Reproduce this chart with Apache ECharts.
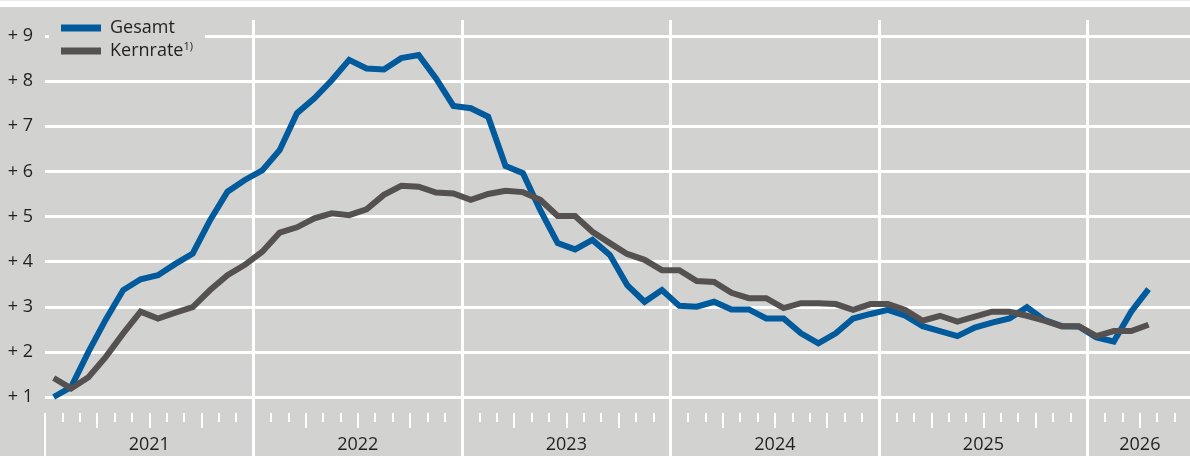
<!DOCTYPE html>
<html>
<head>
<meta charset="utf-8">
<script src="https://cdn.jsdelivr.net/npm/echarts@6/dist/echarts.min.js"></script>
<style>
  html, body { margin: 0; padding: 0; background: #fff; }
  #chart { width: 1190px; height: 456px; }
</style>
</head>
<body>
<div id="chart"></div>
<script>
// Jahre und Monate der x-Achse
var years = ['2021', '2022', '2023', '2024', '2025', '2026'];
var monthNames = ['01', '02', '03', '04', '05', '06', '07', '08', '09', '10', '11', '12'];
var yearLabelPos = [6, 18, 30, 42, 54, 63];   // Monat, an dem das Jahr steht
var yTicks = [1, 2, 3, 4, 5, 6, 7, 8, 9];

// Veränderung gegenüber Vorjahr in %
var gesamt = [
    1.00, 1.22, 2.00, 2.72, 3.37, 3.61, 3.70, 3.95, 4.18, 4.92, 5.55, 5.81,
    6.02, 6.47, 7.29, 7.62, 8.02, 8.47, 8.28, 8.26, 8.51, 8.58, 8.06, 7.45,
    7.40, 7.21, 6.12, 5.96, 5.14, 4.41, 4.27, 4.48, 4.15, 3.48, 3.11, 3.37,
    3.02, 3.00, 3.11, 2.94, 2.94, 2.74, 2.74, 2.41, 2.19, 2.41, 2.74, 2.84,
    2.93, 2.80, 2.57, 2.46, 2.35, 2.54, 2.65, 2.74, 2.99, 2.71, 2.57, 2.56,
    2.32, 2.23, 2.89, 3.39
];
var kernrate = [
    1.42, 1.19, 1.44, 1.89, 2.41, 2.89, 2.74, 2.87, 2.99, 3.37, 3.70, 3.93,
    4.22, 4.64, 4.76, 4.96, 5.07, 5.03, 5.16, 5.48, 5.68, 5.66, 5.53, 5.51,
    5.37, 5.50, 5.57, 5.54, 5.37, 5.01, 5.01, 4.66, 4.41, 4.17, 4.04, 3.81,
    3.81, 3.57, 3.55, 3.31, 3.19, 3.19, 2.97, 3.08, 3.08, 3.06, 2.93, 3.06,
    3.06, 2.93, 2.69, 2.80, 2.67, 2.78, 2.89, 2.89, 2.80, 2.69, 2.57, 2.57,
    2.35, 2.46, 2.46, 2.60
];

var months = [];
for (var y = 0; y < years.length; y++) {
    for (var m = 0; m < 12; m++) {
        months.push(years[y] + '-' + monthNames[m]);
    }
}
months = months.slice(0, 66);   // Achse endet im Juni 2026

var bg = '#d2d2d1';
var textCol = '#231f20';
var font = '"Open Sans", sans-serif';
var nMonths = months.length;

var option = {
    animation: false,
    backgroundColor: bg,
    textStyle: { fontFamily: font },
    graphic: [
        { type: 'rect', left: 0, top: 0, shape: { width: 1190, height: 7 }, style: { fill: '#fff' } },
        { type: 'rect', left: 0, top: 0, shape: { width: 1190, height: 1 }, style: { fill: '#e9e9e9' } }
    ],
    legend: {
        orient: 'vertical',
        left: 49,
        top: 10,
        padding: [8, 12, 4, 12],
        backgroundColor: bg,
        itemWidth: 40,
        itemHeight: 7,
        itemGap: 3,
        icon: 'rect',
        selectedMode: false,
        data: ['Gesamt', 'Kernrate'],
        formatter: function (name) {
            return name === 'Kernrate' ? 'Kernrate{sup|1)}' : name;
        },
        textStyle: {
            color: textCol,
            fontSize: 18,
            lineHeight: 20,
            fontFamily: font,
            padding: [0, 0, 0, 4],
            rich: {
                sup: { fontSize: 11, lineHeight: 14, verticalAlign: 'top', color: textCol, fontFamily: font }
            }
        }
    },
    grid: [
        { left: 45, right: -2, top: 36, bottom: 59, outerBoundsMode: 'none' },   // Daten
        { left: 45, right: -2, top: 20, bottom: 0, outerBoundsMode: 'none' }     // Jahrestrennlinien
    ],
    xAxis: [
        {   // Monate (Daten) + kurze Monatsstriche
            type: 'category',
            gridIndex: 0,
            position: 'bottom',
            data: months,
            boundaryGap: true,
            offset: 16,
            axisLine: { show: false, onZero: false },
            axisTick: { show: true, interval: 0, length: 9, lineStyle: { color: '#fff', width: 2 } },
            axisLabel: { show: false },
            splitLine: { show: false }
        },
        {   // Quartalsstriche
            type: 'value',
            gridIndex: 0,
            position: 'bottom',
            min: 0, max: nMonths, interval: 3,
            offset: 16,
            axisLine: { show: false, onZero: false },
            axisTick: { show: true, length: 15, lineStyle: { color: '#fff', width: 2 } },
            axisLabel: { show: false },
            splitLine: { show: false }
        },
        {   // Jahresstriche
            type: 'value',
            gridIndex: 0,
            position: 'bottom',
            min: 0, max: nMonths, interval: 12,
            offset: 16,
            axisLine: { show: false, onZero: false },
            axisTick: { show: true, length: 50, lineStyle: { color: '#fff', width: 2 } },
            axisLabel: { show: false },
            splitLine: { show: false }
        },
        {   // Jahreszahlen
            type: 'value',
            gridIndex: 0,
            position: 'bottom',
            min: 0, max: nMonths, interval: 3,
            offset: 16,
            axisLine: { show: false, onZero: false },
            axisTick: { show: false },
            splitLine: { show: false },
            axisLabel: {
                show: true,
                margin: 23,
                fontSize: 18,
                lineHeight: 18,
                color: textCol,
                fontFamily: font,
                showMinLabel: true,
                showMaxLabel: true,
                formatter: function (v) {
                    var k = yearLabelPos.indexOf(v);
                    return k >= 0 ? years[k] : '';
                }
            }
        },
        {   // weiße senkrechte Linien an den Jahresgrenzen
            type: 'value',
            gridIndex: 1,
            position: 'bottom',
            min: 0, max: nMonths, interval: 12,
            axisLine: { show: false, onZero: false },
            axisTick: { show: false },
            axisLabel: { show: false },
            splitLine: {
                show: true,
                lineStyle: { color: ['rgba(0,0,0,0)', '#fff', '#fff', '#fff', '#fff', '#fff'], width: 3 }
            }
        }
    ],
    yAxis: [
        {
            type: 'value',
            gridIndex: 0,
            min: yTicks[0],
            max: yTicks[yTicks.length - 1],
            interval: 1,
            axisLine: { show: false },
            axisTick: { show: false },
            axisLabel: {
                margin: 12,
                fontSize: 18,
                color: textCol,
                fontFamily: font,
                formatter: function (v) { return '+ ' + v; }
            },
            splitLine: { show: true, lineStyle: { color: '#fff', width: 3 } }
        },
        {
            type: 'value',
            gridIndex: 1,
            min: 0, max: 1,
            show: false,
            splitLine: { show: false }
        }
    ],
    series: [
        {
            name: 'Gesamt',
            type: 'line',
            xAxisIndex: 0,
            yAxisIndex: 0,
            data: gesamt,
            symbol: 'none',
            color: '#005a9b',
            lineStyle: { color: '#005a9b', width: 6, join: 'miter' }
        },
        {
            name: 'Kernrate',
            type: 'line',
            xAxisIndex: 0,
            yAxisIndex: 0,
            data: kernrate,
            symbol: 'none',
            color: '#545150',
            lineStyle: { color: '#545150', width: 6, join: 'miter' }
        }
    ]
};

var myChart = echarts.init(document.getElementById('chart'));
myChart.setOption(option);
</script>
</body>
</html>
